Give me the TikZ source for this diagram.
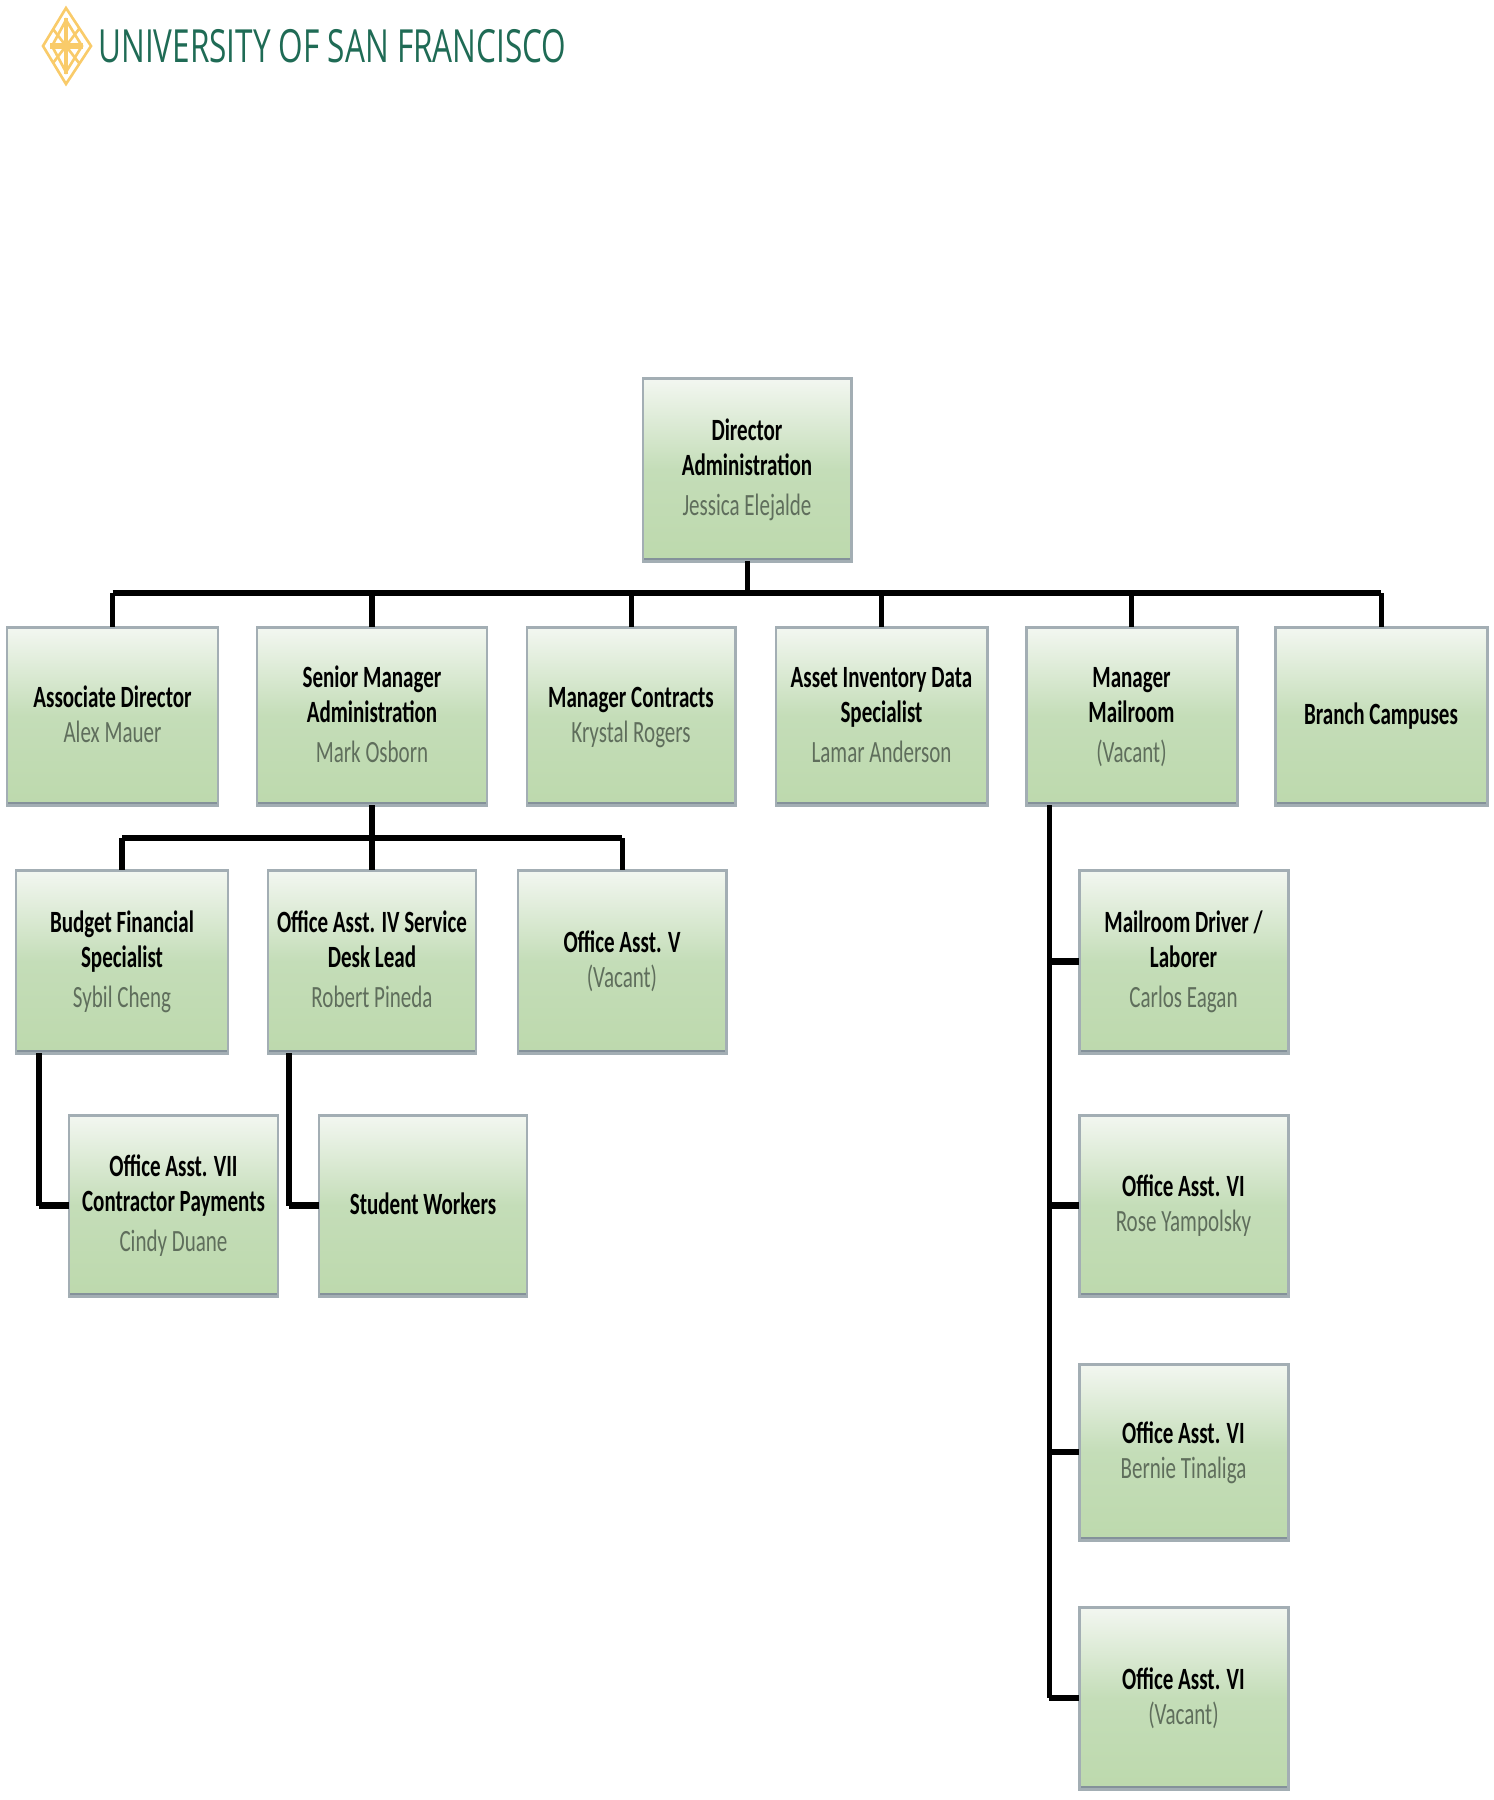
\documentclass[tikz,border=0pt]{standalone}
\usepackage{fontspec}
\newfontfamily\kboxfont[FakeStretch=0.68]{Carlito}
\newfontfamily\klogofont[FakeStretch=0.69]{Open Sans}
\definecolor{boxtop}{HTML}{F3F7F1}
\definecolor{boxmid}{HTML}{C4DDB8}
\definecolor{boxlow}{HTML}{BDD9AD}
\definecolor{boxline}{HTML}{A3AEB4}
\definecolor{boxfoot}{HTML}{84919A}
\definecolor{namegray}{HTML}{5F6E5C}
\definecolor{logogreen}{HTML}{1F6B55}
\definecolor{logogold}{HTML}{F9CB6A}
\pgfdeclareverticalshading{boxgreen}{100bp}{color(0bp)=(boxlow); color(25bp)=(boxlow); color(50bp)=(boxmid); color(75bp)=(boxtop); color(100bp)=(boxtop)}
\newcommand{\kstrut}{\vphantom{(Ag}}
\newcommand{\kname}[1]{{\normalfont\kboxfont\color{namegray}#1\kstrut}}
\tikzset{
  orgbox/.style={rectangle,draw=boxline,line width=1.7pt,shading=boxgreen,outer sep=0pt,inner sep=0pt,align=center,text=black,font=\kboxfont\bfseries\fontsize{17.6}{19.9}\selectfont,
    path picture={\draw[boxfoot,line width=3pt](path picture bounding box.south west)--(path picture bounding box.south east);}},
  linkv/.style={line width=2.85pt,black},
  linkh/.style={line width=3.9pt,black},
  logoline/.style={draw=logogold,line width=1.5pt}
}
\begin{document}
\begin{tikzpicture}[x=0.02cm,y=-0.02cm]
\useasboundingbox(0,0)rectangle(1494,1800);
\foreach \nm/\xa/\ya/\xb/\yb/\lb in {
  director/642/377/852/562/{Director\\Administration\\[3pt]\kname{Jessica Elejalde}},
  assoc/6/626/219/806/{Associate Director\\\kname{Alex Mauer}},
  senior/256/626/488/806/{Senior Manager\\Administration\\[3pt]\kname{Mark Osborn}},
  contracts/526/626/736/806/{Manager Contracts\\\kname{Krystal Rogers}},
  asset/775/626/988/806/{Asset Inventory Data\\Specialist\\[3pt]\kname{Lamar Anderson}},
  mailmgr/1025/626/1238/806/{Manager\\Mailroom\\[3pt]\kname{(Vacant)}},
  branch/1274/626/1488/806/{Branch Campuses},
  budget/15/869/229/1054/{Budget Financial\\Specialist\\[3pt]\kname{Sybil Cheng}},
  desklead/267/869/477/1054/{Office Asst. IV Service\\Desk Lead\\[3pt]\kname{Robert Pineda}},
  oafive/517/869/727/1054/{Office Asst. V\\\kname{(Vacant)}},
  driver/1078/869/1289/1054/{Mailroom Driver /\\Laborer\\[3pt]\kname{Carlos Eagan}},
  oaseven/68/1114/279/1297/{Office Asst. VII\\Contractor Payments\\[3pt]\kname{Cindy Duane}},
  student/318/1114/528/1297/{Student Workers},
  oasixa/1078/1114/1289/1297/{Office Asst. VI\\\kname{Rose Yampolsky}},
  oasixb/1078/1363/1289/1541/{Office Asst. VI\\\kname{Bernie Tinaliga}},
  oasixc/1078/1606/1289/1790/{Office Asst. VI\\\kname{(Vacant)}}}{
  \pgfmathsetmacro{\kw}{(\xb-\xa-2)*0.02}
  \pgfmathsetmacro{\kh}{(\yb-\ya-2)*0.02}
  \node[orgbox,minimum width=\kw cm,minimum height=\kh cm](\nm) at ({(\xa+\xb)/2},{(\ya+\yb)/2}){\kstrut\lb\kstrut};
}
\coordinate(busa) at (747,593);
\coordinate(busb) at (372,838);
\coordinate(mailx) at (1049,1698);
\draw[linkv](director.south)--(busa);
\draw[linkh](assoc.north|-busa)--(branch.north|-busa);
\foreach \kid in {assoc,senior,contracts,asset,mailmgr,branch}{\draw[linkv](\kid.north|-busa)--(\kid.north);}
\draw[linkv](senior.south)--(busb);
\draw[linkh](budget.north|-busb)--(oafive.north|-busb);
\foreach \kid in {budget,desklead,oafive}{\draw[linkv](\kid.north|-busb)--(\kid.north);}
\foreach \kup/\kid/\kx in {budget/oaseven/39,desklead/student/289}{
  \coordinate(drop\kid) at (\kx,0);
  \draw[linkv](drop\kid|-\kup.south)--(drop\kid|-\kid.west);
  \draw[linkh](drop\kid|-\kid.west)--(\kid.west);
}
\draw[linkv](mailx|-mailmgr.south)--(mailx);
\foreach \kid in {driver,oasixa,oasixb,oasixc}{\draw[linkh](mailx|-\kid.west)--(\kid.west);}
\node[anchor=west,inner sep=0pt,text=logogreen,font=\klogofont\fontsize{26}{26}\selectfont](logotext) at (98,46){UNIVERSITY OF SAN FRANCISCO};
\draw[logoline](66,8)--(91,46)--(66,84)--(43,46)--cycle;
\draw[logoline](66,20)--(82,46)--(66,72)--(52,46)--cycle;
\foreach \kx in {-1,1}{\draw[logoline](66,46)--++(\kx*13,-17);\draw[logoline](66,46)--++(\kx*13,17);}
\draw[logoline,line width=2pt](66,18)--(66,74);
\draw[logoline,line width=3.5pt](50,46)--(83,46);
\end{tikzpicture}
\end{document}
